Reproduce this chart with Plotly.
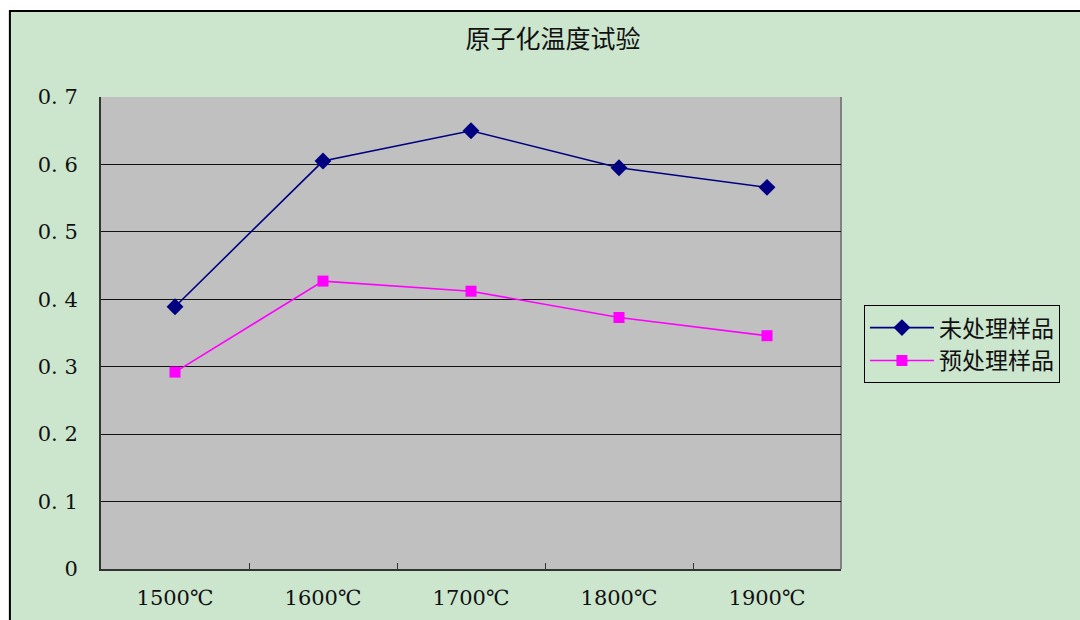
import plotly.graph_objects as go

# Atomization temperature test data
temperatures = ["1500℃", "1600℃", "1700℃", "1800℃", "1900℃"]
untreated = [0.389, 0.605, 0.650, 0.595, 0.566]
pretreated = [0.292, 0.427, 0.412, 0.373, 0.346]

y_ticks = [0, 0.1, 0.2, 0.3, 0.4, 0.5, 0.6, 0.7]
y_tick_text = ["0", "0. 1", "0. 2", "0. 3", "0. 4", "0. 5", "0. 6", "0. 7"]

GREEN = "#CCE6CE"
GRAY = "#C0C0C0"
SERIF = "DejaVu Serif, Noto Sans CJK SC, serif"
CJK = "Noto Sans CJK SC, sans-serif"

fig = go.Figure()
fig.add_trace(go.Scatter(
    x=temperatures, y=untreated, name="未处理样品", mode="lines+markers",
    line=dict(color="#000080", width=1.6),
    marker=dict(symbol="diamond", size=13, color="#000080"),
))
fig.add_trace(go.Scatter(
    x=temperatures, y=pretreated, name="预处理样品", mode="lines+markers",
    line=dict(color="#FF00FF", width=1.6),
    marker=dict(symbol="square", size=11, color="#FF00FF"),
))

# Outer chart frame: white page outside, black border line
fig.add_shape(type="rect", xref="paper", yref="paper",
              x0=-0.5, x1=1.6, y0=1.18, y1=1.4,
              fillcolor="white", line=dict(width=0), layer="above")
fig.add_shape(type="rect", xref="paper", yref="paper",
              x0=-0.5, x1=-0.1245, y0=-0.4, y1=1.4,
              fillcolor="white", line=dict(width=0), layer="above")
fig.add_shape(type="rect", xref="paper", yref="paper",
              x0=-0.1231, x1=1.6, y0=-0.4, y1=1.1822,
              line=dict(color="black", width=2), layer="above")
# Gray right edge of the plot area
fig.add_shape(type="line", xref="paper", yref="paper",
              x0=1, x1=1, y0=0, y1=1,
              line=dict(color="#808080", width=2), layer="below")

fig.update_layout(
    width=1080, height=620,
    margin=dict(l=101, r=239, t=97, b=51),
    paper_bgcolor=GREEN, plot_bgcolor=GRAY,
    title=dict(text="原子化温度试验", x=0.512, xref="container", xanchor="center",
               y=1 - 39 / 620, yref="container", yanchor="middle",
               font=dict(family=CJK, size=25, color="#111111"), automargin=False),
    showlegend=True,
    legend=dict(x=1.031, y=0.559, xanchor="left", yanchor="top",
                bgcolor=GREEN, bordercolor="black", borderwidth=1,
                font=dict(family=CJK, size=23, color="#111111"),
                tracegroupgap=0, itemwidth=64),
    xaxis=dict(type="category", showgrid=False, zeroline=False,
               showline=True, linecolor="#333333", linewidth=2,
               ticks="inside", tickson="boundaries", ticklen=6,
               tickcolor="#333333", range=[-0.5, 4.5], automargin=False,
               tickfont=dict(family=SERIF, size=21, color="#111111"),
               ticklabelstandoff=9),
    yaxis=dict(range=[0, 0.7], tickvals=y_ticks, ticktext=y_tick_text,
               showgrid=True, gridcolor="#111111", gridwidth=1,
               zeroline=False, showline=True, linecolor="#333333",
               linewidth=2, ticks="", automargin=False,
               tickfont=dict(family=SERIF, size=21, color="#111111"),
               ticklabelstandoff=17),
)

fig.write_html("out.html")
